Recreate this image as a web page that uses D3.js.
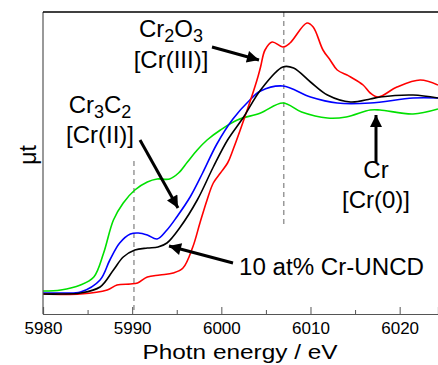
<!DOCTYPE html>
<html lang="en">
<head>
  <meta charset="UTF-8">
  <title>Cr K-edge XANES</title>
  <script src="https://d3js.org/d3.v7.min.js"></script>
  <style>
    body { margin: 0; background: #fff; }
    svg { font-family: Arial, "Liberation Sans", sans-serif; }
  </style>
</head>
<body>
  <svg id="chart" width="438" height="365"></svg>

  <script>
    // photon energy (eV) / normalised absorption
    const greenE = [5980, 5982, 5984.2, 5985.7, 5986.8, 5987.9, 5989.0, 5990.3, 5991.7, 5992.8, 5994.2, 5995.2, 5996.2, 5997.3, 5998.4, 5999.9, 6001.8, 6004.4, 6006.9, 6009.0, 6011.9, 6014.0, 6016.7, 6017.8, 6021.5, 6024.3];
    const greenV = [0.01, 0.015, 0.04, 0.08, 0.2, 0.365, 0.45, 0.515, 0.555, 0.57, 0.57, 0.6, 0.655, 0.715, 0.765, 0.815, 0.865, 0.90, 0.95, 0.905, 0.875, 0.88, 0.915, 0.915, 0.895, 0.92];

    const blueE = [5980, 5982, 5984.2, 5986.4, 5987.5, 5988.6, 5989.8, 5990.7, 5991.7, 5992.8, 5993.9, 5995.0, 5996.5, 5997.9, 5999.5, 6001.3, 6003.2, 6004.4, 6006.9, 6010.0, 6013.0, 6016.7, 6021.5, 6024.3];
    const blueV = [0.0, 0.0, 0.005, 0.065, 0.165, 0.25, 0.295, 0.30, 0.29, 0.27, 0.315, 0.38, 0.48, 0.6, 0.745, 0.87, 0.965, 1.01, 1.035, 0.98, 0.95, 0.95, 0.975, 0.975];

    const blackE = [5980, 5982, 5984.2, 5986.4, 5987.9, 5989.0, 5990.3, 5991.7, 5992.9, 5993.9, 5995.4, 5997.3, 5999.1, 6000.7, 6002.5, 6004.4, 6006.9, 6008.1, 6010.0, 6011.9, 6014.5, 6016.7, 6017.8, 6021.5, 6024.3];
    const blackV = [-0.005, -0.005, 0.0, 0.03, 0.115, 0.18, 0.215, 0.225, 0.23, 0.25, 0.33, 0.465, 0.63, 0.765, 0.88, 1.015, 1.13, 1.125, 1.055, 0.99, 0.955, 0.97, 0.98, 0.99, 0.975];

    const redE = [5980, 5984.2, 5987.2, 5988.3, 5989.8, 5990.6, 5991.7, 5993.1, 5994.6, 5995.7, 5996.8, 5997.6, 5998.4, 5999.1, 5999.9, 6000.7, 6001.3, 6002.9, 6004.0, 6004.4, 6004.9, 6005.7, 6006.9, 6007.7, 6009.6, 6010.3, 6011.4, 6012.2, 6013.0, 6014.1, 6014.5, 6015.9, 6016.7, 6017.6, 6019.7, 6022.3, 6024.3];
    const redV = [-0.005, -0.005, 0.015, 0.04, 0.045, 0.05, 0.08, 0.09, 0.1, 0.125, 0.23, 0.35, 0.465, 0.55, 0.6, 0.65, 0.715, 0.915, 1.065, 1.13, 1.215, 1.255, 1.23, 1.25, 1.35, 1.33, 1.215, 1.165, 1.115, 1.09, 1.08, 1.04, 1.0, 0.98, 1.03, 1.065, 1.04];

    const majorTicks = [5980, 5990, 6000, 6010, 6020];
    const minorTicks = [5985, 5995, 6005, 6015];
    const markerE = [5990.2, 6007.0];

    const series = [
      { name: "Cr", E: greenE, V: greenV, color: "#00e000" },
      { name: "Cr3C2", E: blueE, V: blueV, color: "#0000ff" },
      { name: "Cr2O3", E: redE, V: redV, color: "#ff0000" },
      { name: "10 at% Cr-UNCD", E: blackE, V: blackV, color: "#000000" }
    ];

    const svg = d3.select("#chart");
    const x = d3.scaleLinear().domain([5980, 6024.3]).range([43, 438]);
    const y = d3.scaleLinear().domain([-0.105, 1.405]).range([314, 12]);

    // dashed reference lines
    svg.append("line")
      .attr("x1", x(markerE[0])).attr("x2", x(markerE[0]))
      .attr("y1", y(0.66)).attr("y2", y(-0.105))
      .attr("stroke", "#999").attr("stroke-width", 1.5).attr("stroke-dasharray", "5,4");
    svg.append("line")
      .attr("x1", x(markerE[1])).attr("x2", x(markerE[1]))
      .attr("y1", y(1.405)).attr("y2", y(0.33))
      .attr("stroke", "#999").attr("stroke-width", 1.5).attr("stroke-dasharray", "5,4");

    const line = d3.line().curve(d3.curveCatmullRom.alpha(0.5));
    series.forEach(s => {
      svg.append("path")
        .attr("d", line(s.E.map((e, i) => [x(e), y(s.V[i])])))
        .attr("fill", "none")
        .attr("stroke", s.color)
        .attr("stroke-width", 1.6);
    });

    // frame: left and top
    svg.append("line").attr("x1", 43).attr("x2", 43).attr("y1", 12).attr("y2", 314)
      .attr("stroke", "#555").attr("stroke-width", 1.2);
    svg.append("line").attr("x1", 43).attr("x2", 438).attr("y1", 12).attr("y2", 12)
      .attr("stroke", "#000").attr("stroke-width", 1.5);

    const axis = svg.append("g").attr("transform", "translate(0,314)")
      .call(d3.axisBottom(x).tickValues(majorTicks).tickSize(-7).tickPadding(8).tickFormat(d3.format("d")));
    axis.select(".domain").attr("stroke", "#555").attr("stroke-width", 1.2);
    axis.selectAll(".tick line").attr("stroke", "#555");
    axis.selectAll("text").attr("font-size", 17).attr("fill", "#000")
      .attr("font-family", "Arial, 'Liberation Sans', sans-serif");

    const minor = svg.append("g").attr("transform", "translate(0,314)")
      .call(d3.axisBottom(x).tickValues(minorTicks).tickSize(-4).tickFormat(""));
    minor.select(".domain").remove();
    minor.selectAll(".tick line").attr("stroke", "#555");

    svg.append("text").attr("x", 240).attr("y", 359).attr("text-anchor", "middle")
      .attr("font-size", 21).attr("textLength", 195).attr("lengthAdjust", "spacingAndGlyphs")
      .text("Photn energy / eV");

    svg.append("text").attr("transform", "translate(36,155) rotate(-90)")
      .attr("text-anchor", "middle").attr("font-size", 23).text("μt");

    // annotations
    function chem(xc, yb, parts) {
      const t = svg.append("text").attr("x", xc).attr("y", yb)
        .attr("text-anchor", "middle").attr("font-size", 24);
      parts.forEach(p => {
        if (p.sub) t.append("tspan").attr("font-size", 18).attr("dy", 5).text(p.sub);
        else t.append("tspan").attr("dy", p.up ? -5 : 0).text(p.t);
      });
    }
    chem(171, 37, [{ t: "Cr" }, { sub: "2" }, { t: "O", up: true }, { sub: "3" }]);
    svg.append("text").attr("x", 171).attr("y", 68).attr("text-anchor", "middle")
      .attr("font-size", 24).text("[Cr(III)]");
    chem(100, 113, [{ t: "Cr" }, { sub: "3" }, { t: "C", up: true }, { sub: "2" }]);
    svg.append("text").attr("x", 100).attr("y", 143).attr("text-anchor", "middle")
      .attr("font-size", 24).text("[Cr(II)]");
    svg.append("text").attr("x", 376).attr("y", 178).attr("text-anchor", "middle")
      .attr("font-size", 24).text("Cr");
    svg.append("text").attr("x", 376).attr("y", 208).attr("text-anchor", "middle")
      .attr("font-size", 24).text("[Cr(0)]");
    svg.append("text").attr("x", 239).attr("y", 275)
      .attr("font-size", 23).attr("textLength", 185).attr("lengthAdjust", "spacingAndGlyphs")
      .text("10 at% Cr-UNCD");

    svg.append("defs").append("marker")
      .attr("id", "head").attr("viewBox", "0 0 10 10").attr("refX", 10).attr("refY", 5)
      .attr("markerWidth", 4.5).attr("markerHeight", 4).attr("markerUnits", "strokeWidth")
      .attr("orient", "auto")
      .append("path").attr("d", "M0,0L10,5L0,10Z").attr("fill", "#000");

    const arrows = [
      [212, 47, 259, 60],
      [140, 140, 178, 208],
      [376, 162, 376, 115],
      [233, 263, 169, 246]
    ];
    arrows.forEach(a => {
      svg.append("line").attr("x1", a[0]).attr("y1", a[1]).attr("x2", a[2]).attr("y2", a[3])
        .attr("stroke", "#000").attr("stroke-width", 3).attr("marker-end", "url(#head)");
    });
  </script>
</body>
</html>
